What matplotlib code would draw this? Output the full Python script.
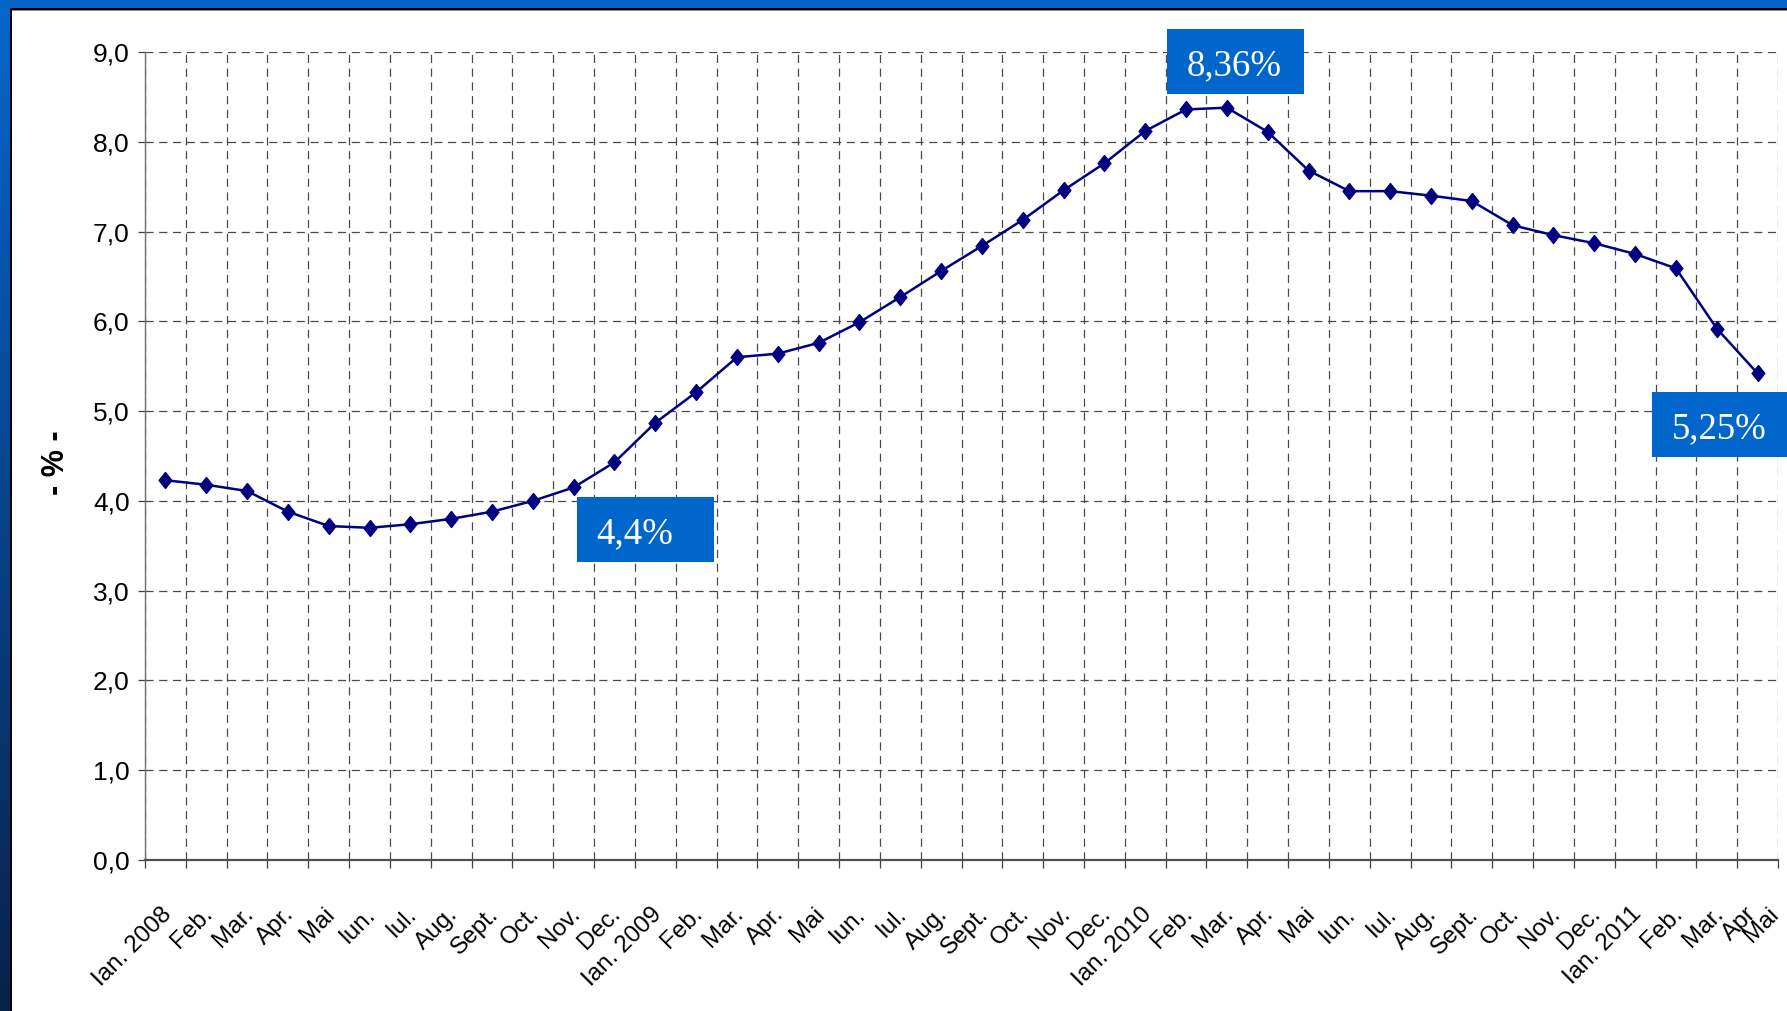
import numpy as np
import matplotlib
matplotlib.use("Agg")
import matplotlib.pyplot as plt
from matplotlib.patches import Rectangle
from matplotlib.ticker import FixedLocator, NullFormatter

# ---------------- data ----------------
months = ["Ian. 2008", "Feb.", "Mar.", "Apr.", "Mai", "Iun.", "Iul.", "Aug.", "Sept.", "Oct.", "Nov.", "Dec.",
          "Ian. 2009", "Feb.", "Mar.", "Apr.", "Mai", "Iun.", "Iul.", "Aug.", "Sept.", "Oct.", "Nov.", "Dec.",
          "Ian. 2010", "Feb.", "Mar.", "Apr.", "Mai", "Iun.", "Iul.", "Aug.", "Sept.", "Oct.", "Nov.", "Dec.",
          "Ian. 2011", "Feb.", "Mar.", "Apr"]
extra_label = "Mai"
values = [4.23, 4.18, 4.11, 3.88, 3.72, 3.70, 3.74, 3.80, 3.88, 4.00, 4.15, 4.43,
          4.87, 5.21, 5.60, 5.64, 5.76, 5.99, 6.27, 6.56, 6.84, 7.13, 7.46, 7.76,
          8.12, 8.36, 8.38, 8.11, 7.68, 7.45, 7.45, 7.40, 7.34, 7.07, 6.96, 6.87,
          6.75, 6.59, 5.92, 5.42]
y_ticks = [0, 1, 2, 3, 4, 5, 6, 7, 8, 9]
y_tick_labels = ["0,0", "1,0", "2,0", "3,0", "4,0", "5,0", "6,0", "7,0", "8,0", "9,0"]
callouts = ["4,4%", "8,36%", "5,25%"]
y_label = "- % -"

W, H = 1787, 1011
fig = plt.figure(figsize=(W / 100, H / 100), dpi=100, facecolor="white")

# ---------------- background frame ----------------
bg = fig.add_axes([0, 0, 1, 1], zorder=-10)
bg.axis("off")
bg.add_patch(Rectangle((0, 0), W, 7.5, color="#0563C6", lw=0))
grad = np.linspace(0, 1, 256)[:, None]
top_c = np.array([0x06, 0x66, 0xCC]) / 255
bot_c = np.array([0x08, 0x22, 0x48]) / 255
img = (top_c[None, None, :] * (1 - grad[..., None]) + bot_c[None, None, :] * grad[..., None])
bg.imshow(img, extent=(0, 10.5, H, 0), aspect="auto", interpolation="bilinear")
bg.add_patch(Rectangle((10.5, 7.5), W, 2.2, color="#000000", lw=0))
bg.add_patch(Rectangle((10.5, 9.7), W, 1.0, color="#8a8a8a", lw=0))
bg.add_patch(Rectangle((10, 7.5), 2.2, H, color="#000000", lw=0))
bg.set_xlim(0, W)
bg.set_ylim(H, 0)

# ---------------- main chart ----------------
left_px, right_px, top_px, bot_px = 145, 1778, 52, 860
ax = fig.add_axes([left_px / W, (H - bot_px) / H, (right_px - left_px) / W, (bot_px - top_px) / H])
ax.set_facecolor("none")
n = len(values)
x = np.arange(n)
ax.set_xlim(-0.5, n - 0.5)
ax.set_ylim(0, 9)

grid_kw = dict(color="#4a4a4a", lw=0.9, linestyle=(0, (6.5, 4.5)))
ax.xaxis.set_major_locator(FixedLocator(np.arange(-0.5, n, 1.0)))
ax.xaxis.set_major_formatter(NullFormatter())
shift = -0.12
label_pos = [p + shift for p in x[:-1]] + [n - 1.3, n - 0.75]
label_txt = months + [extra_label]
ax.set_xticks(label_pos, minor=True)
ax.set_xticklabels(label_txt, minor=True)
ax.tick_params(axis="x", which="major", direction="out", length=6, width=0.9, color="#404040")
ax.tick_params(axis="x", which="minor", length=0, pad=31)
for t in ax.get_xticklabels(minor=True):
    t.set_rotation(45)
    t.set_ha("right")
    t.set_va("top")
    t.set_rotation_mode("anchor")
    t.set_fontfamily(["Liberation Sans", "DejaVu Sans"])
    t.set_fontsize(17.5)
    t.set_color("black")

ax.set_yticks(y_ticks)
ax.set_yticklabels(y_tick_labels)
ax.tick_params(axis="y", direction="out", length=5, width=0.9, color="#404040", pad=6)
for t in ax.get_yticklabels():
    t.set_fontfamily(["Liberation Sans Narrow", "Liberation Sans", "DejaVu Sans"])
    t.set_fontsize(19)

ax.grid(True, axis="both", which="major", **grid_kw)
ax.set_axisbelow(True)
for s in ["top", "right"]:
    ax.spines[s].set_visible(False)
ax.spines["left"].set_color("#707070")
ax.spines["left"].set_linewidth(1.0)
ax.spines["bottom"].set_color("#505050")
ax.spines["bottom"].set_linewidth(1.6)

diamond = [(0, 1), (0.8, 0), (0, -1), (-0.8, 0), (0, 1)]
ax.plot(x, values, color="#000080", lw=1.8, marker=diamond, markersize=11.5,
        markerfacecolor="#000080", markeredgecolor="#000080", zorder=5, clip_on=False)

# ---------------- overlay: y label and callout boxes ----------------
ov = fig.add_axes([0, 0, 1, 1], zorder=20)
ov.set_xlim(0, W)
ov.set_ylim(H, 0)
ov.axis("off")
ov.patch.set_alpha(0)
ov.text(55.5, 463, y_label, rotation=90, ha="center", va="center", fontsize=22,
        fontweight="bold", family=["Liberation Sans", "DejaVu Sans"])

boxes = [(576.7, 496.7), (1166.7, 29.0), (1651.7, 391.7)]
bw, bh = 137.3, 65.0
for (bx, by), txt in zip(boxes, callouts):
    ov.add_patch(Rectangle((bx, by), bw, bh, color="#0066CC", lw=0))
    ov.text(bx + 20, by + bh / 2 + 4.5, txt, ha="left", va="center", color="white",
            fontsize=26.5, family=["Liberation Serif", "DejaVu Serif"])

fig.savefig("out.png", dpi=100, facecolor="white")
